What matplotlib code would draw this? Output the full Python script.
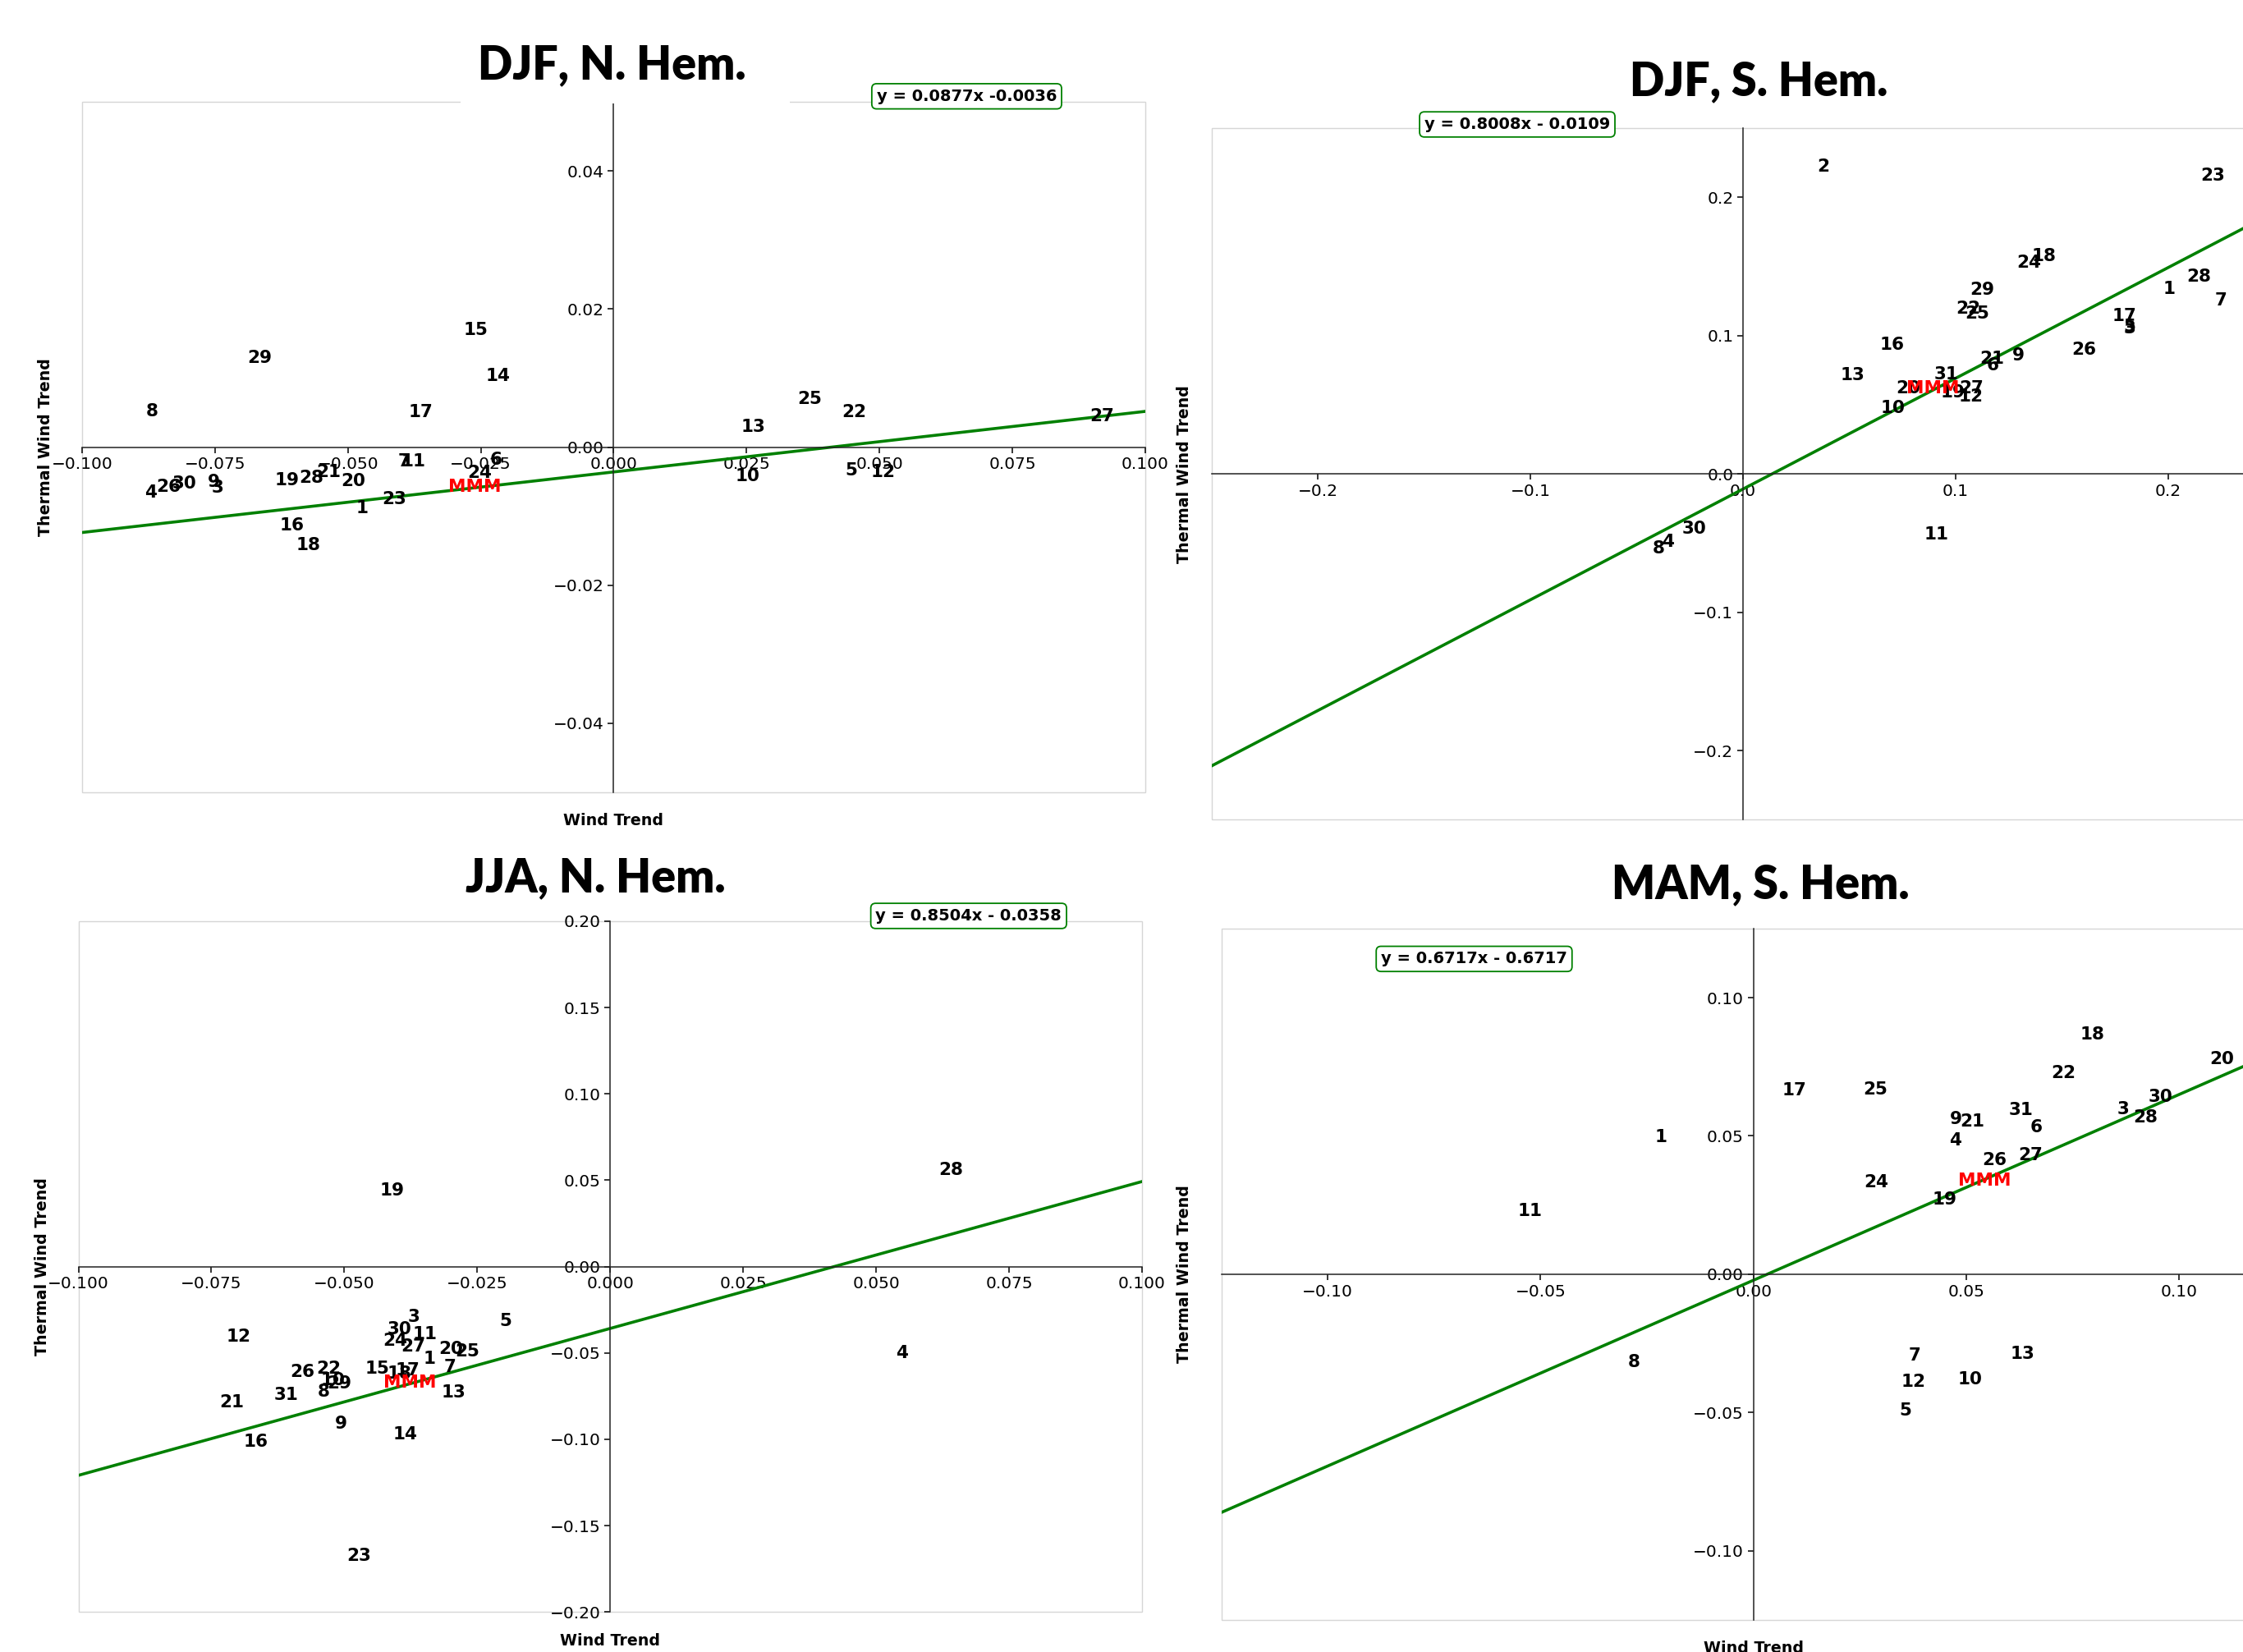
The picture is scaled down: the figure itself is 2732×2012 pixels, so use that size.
import matplotlib.pyplot as plt
from matplotlib.patches import Rectangle

# ---- data (label -> wind trend, thermal wind trend) ----
djf_n_labels = ['1', '3', '4', '5', '6', '7', '8', '9', '10', '11', '12', '13', '14', '15', '16',
                '17', '18', '19', '20', '21', '22', '23', '24', '25', '26', '27', '28', '29', '30']
djf_n_x = [-0.0473, -0.0745, -0.0871, 0.0447, -0.0221, -0.0395, -0.0868, -0.0753, 0.0251, -0.0376,
           0.0506, 0.0262, -0.0218, -0.0259, -0.0605, -0.0363, -0.0574, -0.0614, -0.0490, -0.0537,
           0.0452, -0.0413, -0.0252, 0.0369, -0.0838, 0.0919, -0.0569, -0.0666, -0.0807]
djf_n_y = [-0.0088, -0.0059, -0.0066, -0.0034, -0.0018, -0.0021, 0.0052, -0.0050, -0.0042, -0.0021,
           -0.0036, 0.0029, 0.0103, 0.0169, -0.0114, 0.0050, -0.0142, -0.0048, -0.0049, -0.0036,
           0.0051, -0.0075, -0.0038, 0.0069, -0.0058, 0.0044, -0.0044, 0.0129, -0.0053]
djf_n_mmm = (-0.0261, -0.0058)

djf_s_labels = ['1', '2', '3', '4', '5', '6', '7', '8', '9', '10', '11', '12', '13', '16', '17',
                '18', '19', '20', '21', '22', '23', '24', '25', '26', '27', '28', '29', '30', '31']
djf_s_x = [0.2003, 0.0378, 0.1820, -0.0355, 0.1816, 0.1175, 0.2247, -0.0398, 0.1296, 0.0705,
           0.0911, 0.1072, 0.0516, 0.0701, 0.1793, 0.1414, 0.0988, 0.0775, 0.1169, 0.1059,
           0.2207, 0.1345, 0.1102, 0.1602, 0.1072, 0.2145, 0.1125, -0.0230, 0.0956]
djf_s_y = [0.1337, 0.2222, 0.1050, -0.0494, 0.1062, 0.0786, 0.1253, -0.0541, 0.0858, 0.0478,
           -0.0437, 0.0558, 0.0713, 0.0931, 0.1142, 0.1575, 0.0590, 0.0621, 0.0835, 0.1192,
           0.2157, 0.1525, 0.1161, 0.0896, 0.0617, 0.1425, 0.1330, -0.0399, 0.0720]
djf_s_mmm = (0.0892, 0.0621)

jja_n_labels = ['1', '3', '4', '5', '7', '8', '9', '10', '11', '12', '13', '14', '15', '16', '17',
                '18', '19', '20', '21', '22', '23', '24', '25', '26', '27', '28', '29', '30', '31']
jja_n_x = [-0.0340, -0.0369, 0.0548, -0.0197, -0.0301, -0.0539, -0.0506, -0.0521, -0.0348, -0.0699,
           -0.0295, -0.0386, -0.0438, -0.0667, -0.0381, -0.0396, -0.0410, -0.0299, -0.0711, -0.0530,
           -0.0472, -0.0404, -0.0268, -0.0579, -0.0371, 0.0640, -0.0510, -0.0397, -0.0610]
jja_n_y = [-0.0534, -0.0293, -0.0500, -0.0314, -0.0582, -0.0724, -0.0910, -0.0657, -0.0390, -0.0408,
           -0.0729, -0.0971, -0.0590, -0.1016, -0.0602, -0.0621, 0.0442, -0.0479, -0.0788, -0.0591,
           -0.1675, -0.0431, -0.0491, -0.0612, -0.0463, 0.0558, -0.0679, -0.0363, -0.0742]
jja_n_mmm = (-0.0376, -0.0672)

mam_s_labels = ['1', '3', '4', '5', '6', '7', '8', '9', '10', '11', '12', '13', '17', '18', '19',
                '20', '21', '22', '24', '25', '26', '27', '28', '30', '31']
mam_s_x = [-0.0218, 0.0869, 0.0475, 0.0357, 0.0664, 0.0378, -0.0280, 0.0475, 0.0508, -0.0525,
           0.0375, 0.0633, 0.0097, 0.0796, 0.0449, 0.1100, 0.0514, 0.0728, 0.0288, 0.0287,
           0.0566, 0.0651, 0.0921, 0.0957, 0.0628]
mam_s_y = [0.0494, 0.0595, 0.0482, -0.0494, 0.0532, -0.0293, -0.0319, 0.0562, -0.0380, 0.0228,
           -0.0389, -0.0289, 0.0664, 0.0865, 0.0270, 0.0776, 0.0552, 0.0728, 0.0331, 0.0669,
           0.0411, 0.0431, 0.0568, 0.0641, 0.0592]
mam_s_mmm = (0.0544, 0.0339)

# regression lines (slope, intercept) and the text printed in the box
fits = {'djf_n': (0.0877, -0.0036), 'djf_s': (0.8008, -0.0109),
        'jja_n': (0.8504, -0.0358), 'mam_s': (0.6717, -0.0022)}
eq_text = {'djf_n': 'y = 0.0877x -0.0036', 'djf_s': 'y = 0.8008x - 0.0109',
           'jja_n': 'y = 0.8504x - 0.0358', 'mam_s': 'y = 0.6717x - 0.6717'}

W, H = 2732, 2012
fig = plt.figure(figsize=(W / 100, H / 100), dpi=100)


def px_rect(x0, y0, x1, y1):
    # pixel box (top-left origin) -> figure fraction rect
    return [x0 / W, 1 - y1 / H, (x1 - x0) / W, (y1 - y0) / H]


def panel(rect, key, labels, xs, ys, mmm, lim, xticks, yticks, eq_pos, ylab_x, xlabel=True):
    ax = fig.add_axes(rect)
    ax.set_xlim(-lim[0], lim[0])
    ax.set_ylim(-lim[1], lim[1])
    ax.spines['left'].set_position('zero')
    ax.spines['bottom'].set_position('zero')
    ax.spines['top'].set_visible(False)
    ax.spines['right'].set_visible(False)
    for s in ['left', 'bottom']:
        ax.spines[s].set_linewidth(1.1)
        ax.spines[s].set_color('#222222')
    ax.add_patch(Rectangle((0, 0), 1, 1, transform=ax.transAxes, fill=False,
                           edgecolor='#d6d6d6', lw=1.0, clip_on=False))
    ax.set_xticks(xticks)
    ax.set_yticks(yticks)
    ax.tick_params(labelsize=14.5, width=1.1, length=5)

    m, b = fits[key]
    ax.plot([-lim[0], lim[0]], [-m * lim[0] + b, m * lim[0] + b], color='green', lw=2.6)

    for lab, x, y in zip(labels, xs, ys):
        ax.text(x, y, lab, ha='center', va='center', fontsize=15.5, fontweight='bold')
    ax.text(mmm[0], mmm[1], 'MMM', ha='center', va='center', fontsize=15.5,
            fontweight='bold', color='red')

    ax.text(eq_pos[0], eq_pos[1], eq_text[key], transform=ax.transAxes, ha='center', va='center',
            fontsize=14, fontweight='bold', zorder=10,
            bbox=dict(boxstyle='round,pad=0.3', fc='white', ec='green', lw=1.3))
    ax.text(ylab_x, 0.5, 'Thermal Wind Trend', transform=ax.transAxes, rotation=90,
            ha='center', va='center', fontsize=13.7, fontweight='bold')
    if xlabel:
        ax.text(0.5, -0.0415, 'Wind Trend', transform=ax.transAxes, ha='center', va='center',
                fontsize=13.7, fontweight='bold')
    return ax


panel(px_rect(100, 124, 1395, 965), 'djf_n', djf_n_labels, djf_n_x, djf_n_y, djf_n_mmm,
      (0.1, 0.05), [-0.1, -0.075, -0.05, -0.025, 0, 0.025, 0.05, 0.075, 0.1],
      [-0.04, -0.02, 0, 0.02, 0.04], (0.832, 1.008), -0.0347)
panel(px_rect(1475.6, 156, 2770.6, 998.4), 'djf_s', djf_s_labels, djf_s_x, djf_s_y, djf_s_mmm,
      (0.25, 0.25), [-0.2, -0.1, 0, 0.1, 0.2], [-0.2, -0.1, 0, 0.1, 0.2],
      (0.2876, 1.0053), -0.0256, xlabel=False)
panel(px_rect(95.5, 1121.8, 1391, 1963.4), 'jja_n', jja_n_labels, jja_n_x, jja_n_y, jja_n_mmm,
      (0.1, 0.2), [-0.1, -0.075, -0.05, -0.025, 0, 0.025, 0.05, 0.075, 0.1],
      [-0.2, -0.15, -0.1, -0.05, 0, 0.05, 0.1, 0.15, 0.2], (0.837, 1.0075), -0.0343)
panel(px_rect(1487.5, 1130.8, 2783.8, 1972.9), 'mam_s', mam_s_labels, mam_s_x, mam_s_y, mam_s_mmm,
      (0.125, 0.125), [-0.1, -0.05, 0, 0.05, 0.1], [-0.1, -0.05, 0, 0.05, 0.1],
      (0.2376, 0.956), -0.0347)

# white patch behind the first title (covers the frame line)
fig.patches.append(Rectangle((561 / W, 1 - 125.5 / H), 401 / W, 90 / H, transform=fig.transFigure,
                             fc='white', ec='none', zorder=5))

titles = [('DJF, N. Hem.', 745, 96.6), ('DJF, S. Hem.', 2142, 116),
          ('JJA, N. Hem.', 725, 1086.7), ('MAM, S. Hem.', 2144, 1094)]
for t, x, y in titles:
    fig.text(x / W, 1 - y / H, t, ha='center', va='baseline', fontsize=40,
             fontweight='heavy', family='Lato', zorder=6)

fig.savefig('out.png', dpi=100)
